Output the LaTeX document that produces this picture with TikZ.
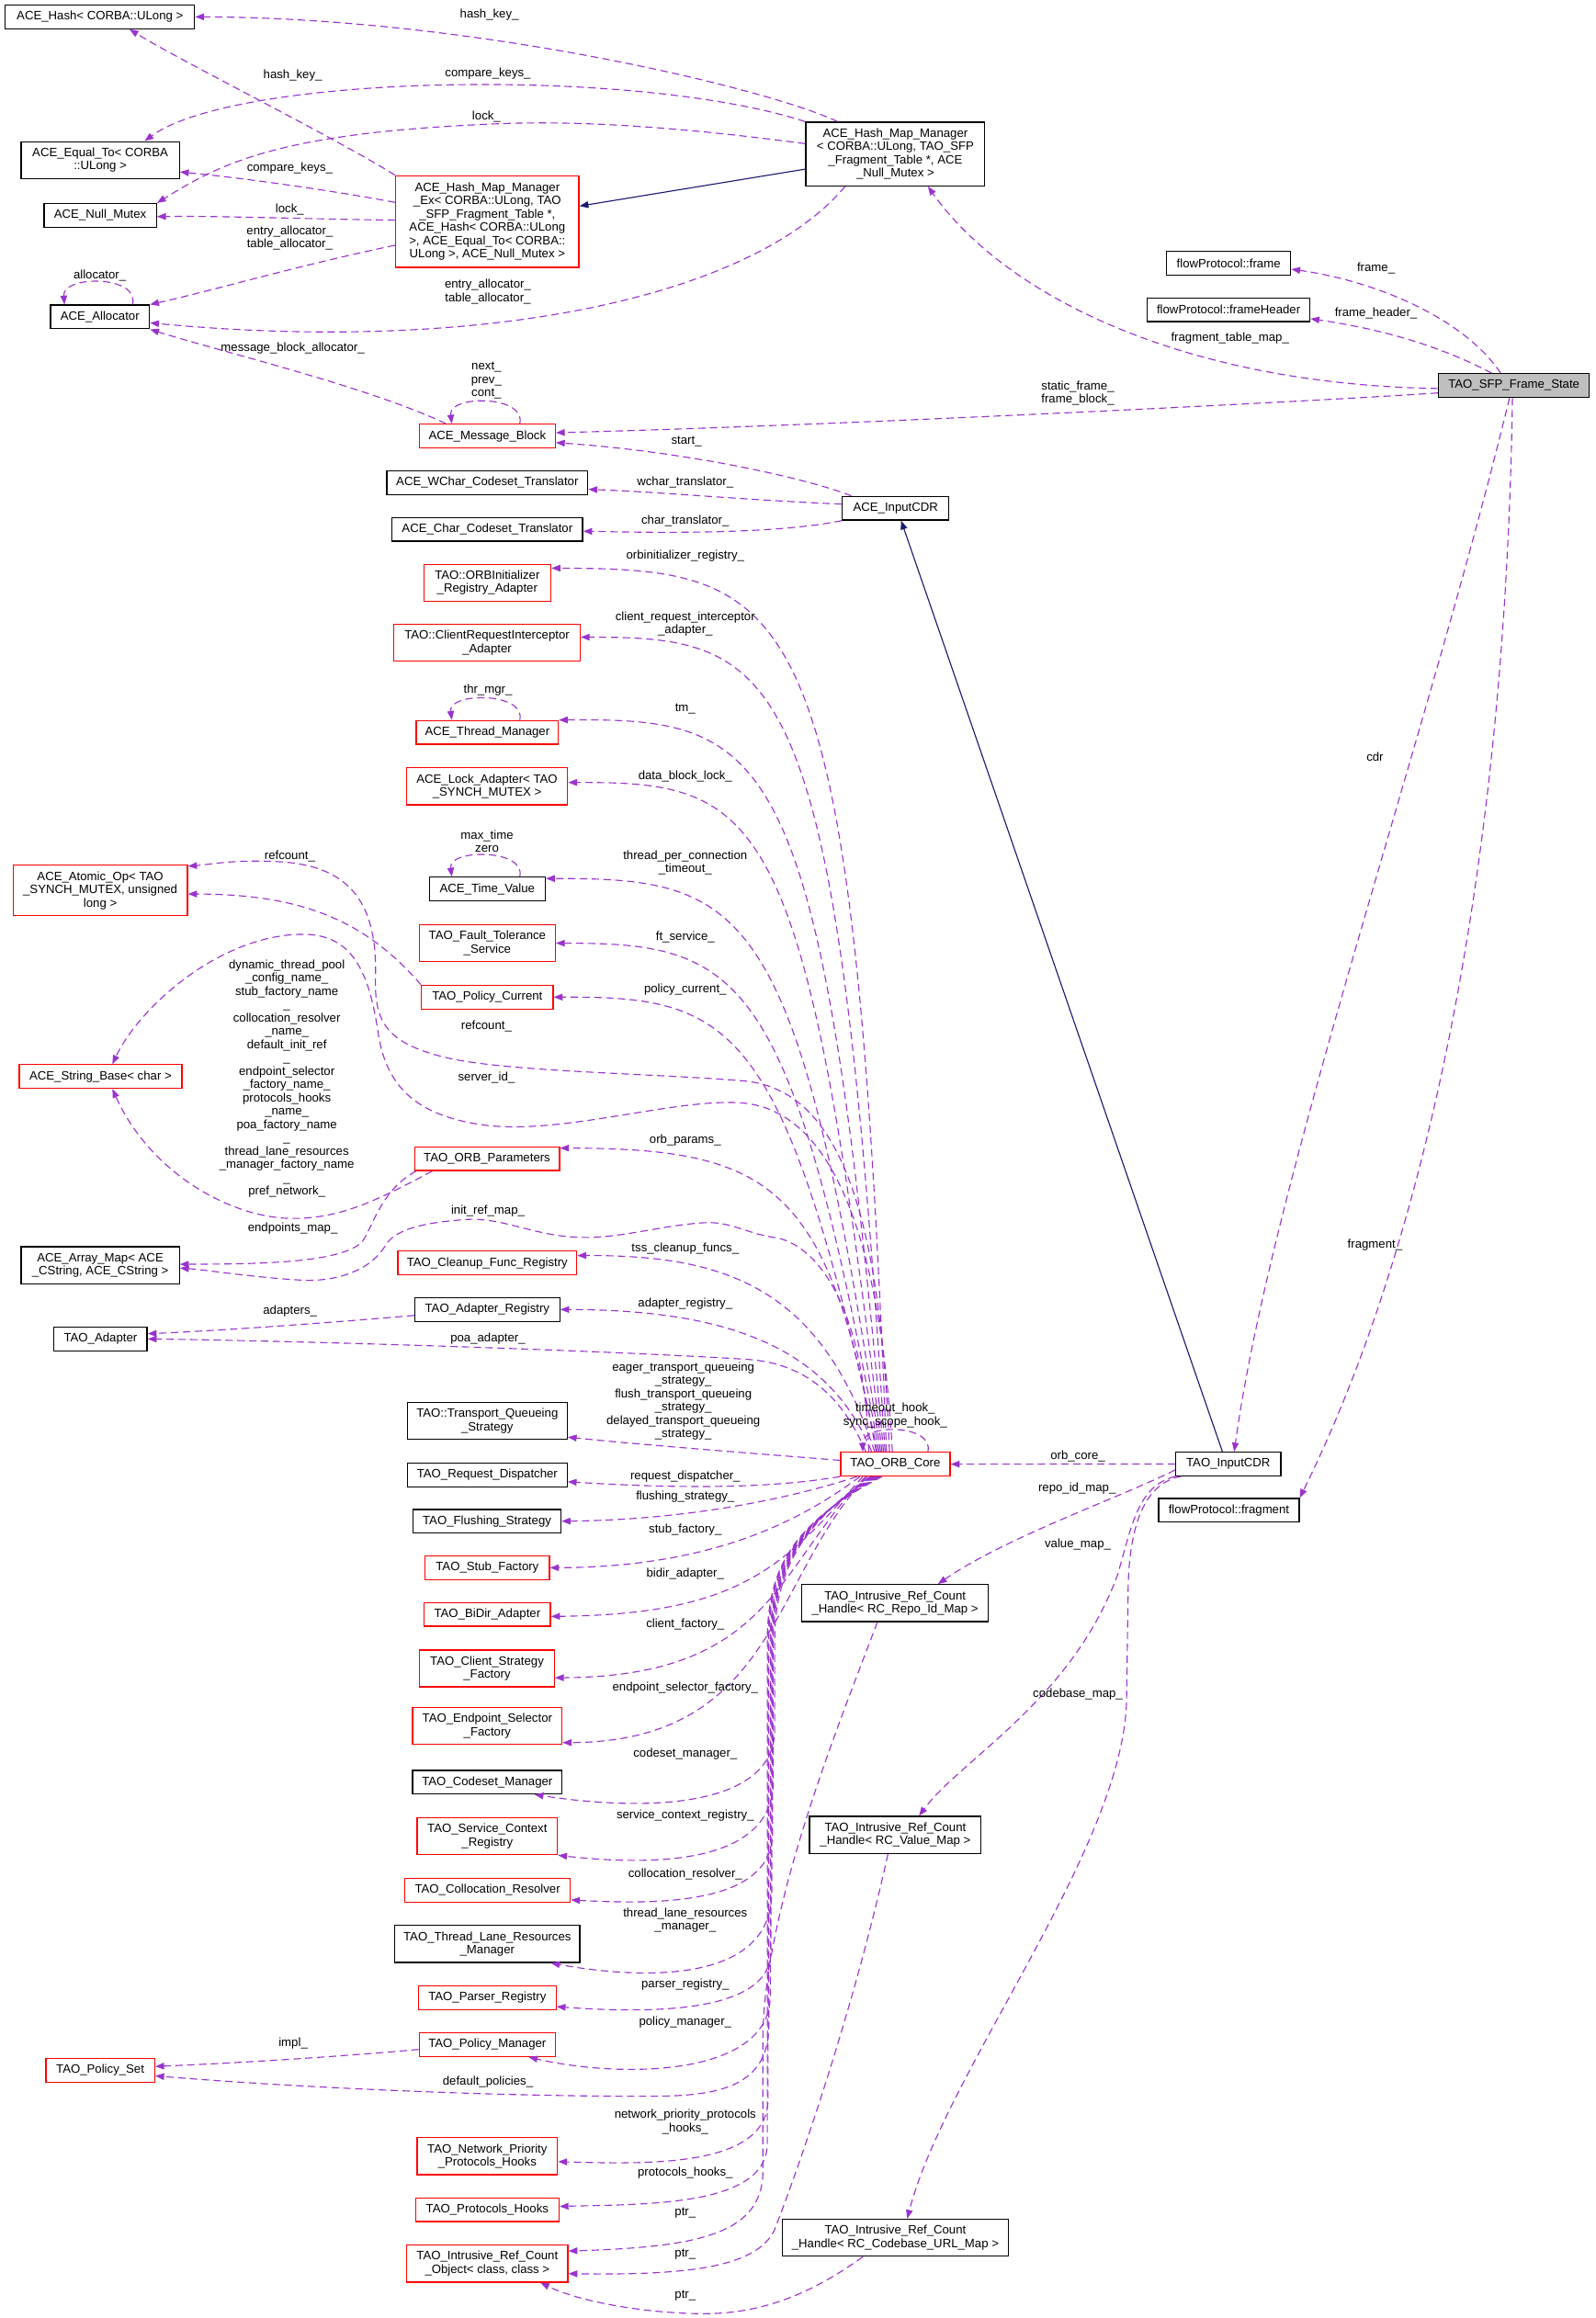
\documentclass[tikz,border=0pt]{standalone}
\usepackage{fontspec}
\setmainfont{Liberation Sans}
\usetikzlibrary{arrows.meta,calc}
\definecolor{edgepurple}{RGB}{154,50,205}
\definecolor{edgenavy}{RGB}{25,25,112}
\definecolor{boxgray}{RGB}{191,191,191}
\newcommand{\dgfont}{\fontsize{8.2}{9}\selectfont}
\tikzset{every picture/.style={line width=0.7pt},
  cls/.style={draw=black,line width=0.8pt,inner sep=1pt,align=center,font=\dgfont},
  trunc/.style={cls,draw=red},
  sz/.style 2 args={minimum width=#1,minimum height=#2},
  lbl/.style={inner sep=0pt,align=center,font=\dgfont},
  member/.style={draw=edgepurple,dash pattern=on 5pt off 3pt,-{Triangle[length=6pt,width=4.5pt]}},
  derive/.style={draw=edgenavy,-{Triangle[length=6pt,width=4.5pt]}}}
\begin{document}
\begin{tikzpicture}[x=1pt,y=1pt,yscale=-1,xscale=1]
\useasboundingbox (0,0) rectangle (1079,1568);

%Shape: Class boxes, left column
\node[cls,sz={128pt}{16pt}] (hash) at (67.6,11.4) {ACE\_Hash< CORBA::ULong >};
\node[cls,sz={107pt}{25pt}] (eqto) at (67.8,108.3) {ACE\_Equal\_To< CORBA\\::ULong >};
\node[cls,sz={76pt}{16pt}] (nullmx) at (67.8,145.7) {ACE\_Null\_Mutex};
\node[cls,sz={67pt}{16pt}] (alloc) at (67.6,214.4) {ACE\_Allocator};
\node[trunc,sz={118pt}{34pt}] (atomic) at (67.8,602.3) {ACE\_Atomic\_Op< TAO\\\_SYNCH\_MUTEX, unsigned\\long >};
\node[trunc,sz={110pt}{16pt}] (strbase) at (68,728.2) {ACE\_String\_Base< char >};
\node[cls,sz={107pt}{25pt}] (arrmap) at (67.8,855.8) {ACE\_Array\_Map< ACE\\\_CString, ACE\_CString >};
\node[cls,sz={63pt}{16pt}] (tadapt) at (68,905.7) {TAO\_Adapter};
\node[trunc,sz={73.6pt}{16pt}] (polset) at (67.8,1400.5) {TAO\_Policy\_Set};

%Shape: Class boxes, middle column
\node[trunc,sz={124pt}{62pt}] (hmmex) at (329.6,149.9) {ACE\_Hash\_Map\_Manager\\\_Ex< CORBA::ULong, TAO\\\_SFP\_Fragment\_Table *,\\ACE\_Hash< CORBA::ULong\\>, ACE\_Equal\_To< CORBA::\\ULong >, ACE\_Null\_Mutex >};
\node[trunc,sz={92pt}{16pt}] (mblock) at (329.6,295) {ACE\_Message\_Block};
\node[cls,sz={136pt}{16pt}] (wchar) at (329.6,326.5) {ACE\_WChar\_Codeset\_Translator};
\node[cls,sz={129pt}{16pt}] (chartr) at (329.6,358) {ACE\_Char\_Codeset\_Translator};
\node[trunc,sz={86pt}{25pt}] (orbinit) at (329.6,394.2) {TAO::ORBInitializer\\\_Registry\_Adapter};
\node[trunc,sz={126pt}{25pt}] (clireq) at (329.4,434.8) {TAO::ClientRequestInterceptor\\\_Adapter};
\node[trunc,sz={96pt}{16pt}] (thrmgr) at (329.6,495.4) {ACE\_Thread\_Manager};
\node[trunc,sz={109pt}{25pt}] (lockad) at (329.4,531.9) {ACE\_Lock\_Adapter< TAO\\\_SYNCH\_MUTEX >};
\node[cls,sz={78.5pt}{16pt}] (timeval) at (329.6,601.4) {ACE\_Time\_Value};
\node[trunc,sz={92pt}{25pt}] (ftsvc) at (329.6,638) {TAO\_Fault\_Tolerance\\\_Service};
\node[trunc,sz={89pt}{16pt}] (polcur) at (329.6,674.5) {TAO\_Policy\_Current};
\node[trunc,sz={98pt}{16pt}] (orbpar) at (329.4,783.8) {TAO\_ORB\_Parameters};
\node[trunc,sz={121pt}{16pt}] (cleanup) at (329.6,854.3) {TAO\_Cleanup\_Func\_Registry};
\node[cls,sz={98pt}{16pt}] (adreg) at (329.6,885.8) {TAO\_Adapter\_Registry};
\node[cls,sz={108pt}{25pt}] (tqs) at (329.6,961.2) {TAO::Transport\_Queueing\\\_Strategy};
\node[cls,sz={108pt}{16pt}] (reqdisp) at (329.6,997.8) {TAO\_Request\_Dispatcher};
\node[cls,sz={100pt}{16pt}] (flush) at (329.4,1029) {TAO\_Flushing\_Strategy};
\node[trunc,sz={84pt}{16pt}] (stubf) at (329.6,1060.5) {TAO\_Stub\_Factory};
\node[trunc,sz={85.5pt}{16pt}] (bidir) at (329.6,1092) {TAO\_BiDir\_Adapter};
\node[trunc,sz={91pt}{25pt}] (clistr) at (329.4,1128.6) {TAO\_Client\_Strategy\\\_Factory};
\node[trunc,sz={101pt}{25pt}] (endsel) at (329.6,1167.5) {TAO\_Endpoint\_Selector\\\_Factory};
\node[cls,sz={101pt}{16pt}] (csmgr) at (329.6,1205.5) {TAO\_Codeset\_Manager};
\node[trunc,sz={95pt}{25pt}] (svcctx) at (329.6,1242.1) {TAO\_Service\_Context\\\_Registry};
\node[trunc,sz={112pt}{16pt}] (colloc) at (329.8,1278.6) {TAO\_Collocation\_Resolver};
\node[cls,sz={125pt}{25pt}] (tlrm) at (329.6,1315) {TAO\_Thread\_Lane\_Resources\\\_Manager};
\node[trunc,sz={93pt}{16pt}] (parser) at (329.6,1351.4) {TAO\_Parser\_Registry};
\node[trunc,sz={92pt}{16pt}] (polmgr) at (329.6,1383.1) {TAO\_Policy\_Manager};
\node[trunc,sz={95pt}{25pt}] (npph) at (329.6,1458.5) {TAO\_Network\_Priority\\\_Protocols\_Hooks};
\node[trunc,sz={97pt}{16pt}] (phooks) at (329.6,1494.8) {TAO\_Protocols\_Hooks};
\node[trunc,sz={109pt}{25pt}] (refobj) at (329.6,1531.2) {TAO\_Intrusive\_Ref\_Count\\\_Object< class, class >};

%Shape: Class boxes, right part
\node[cls,sz={121pt}{43pt}] (hmm) at (605.6,104.2) {ACE\_Hash\_Map\_Manager\\< CORBA::ULong, TAO\_SFP\\\_Fragment\_Table *, ACE\\\_Null\_Mutex >};
\node[cls,sz={72pt}{16pt}] (aicdr) at (605.8,343.8) {ACE\_InputCDR};
\node[trunc,sz={74pt}{16pt}] (core) at (605.6,990.4) {TAO\_ORB\_Core};
\node[cls,sz={126pt}{25pt}] (repoh) at (605.4,1084.4) {TAO\_Intrusive\_Ref\_Count\\\_Handle< RC\_Repo\_Id\_Map >};
\node[cls,sz={116pt}{25pt}] (valh) at (605.6,1241.2) {TAO\_Intrusive\_Ref\_Count\\\_Handle< RC\_Value\_Map >};
\node[cls,sz={153pt}{25pt}] (cbaseh) at (605.6,1513.7) {TAO\_Intrusive\_Ref\_Count\\\_Handle< RC\_Codebase\_URL\_Map >};
\node[cls,sz={84pt}{16pt}] (frame) at (831,178.1) {flowProtocol::frame};
\node[cls,sz={110pt}{16pt}] (fheader) at (831,209.6) {flowProtocol::frameHeader};
\node[cls,sz={71pt}{16pt}] (tcdr) at (830.8,990.3) {TAO\_InputCDR};
\node[cls,sz={95pt}{16pt}] (frag) at (831.2,1021.6) {flowProtocol::fragment};
\node[cls,fill=boxgray,sz={102pt}{16pt}] (sfp) at (1024,260.8) {TAO\_SFP\_Frame\_State};

%Straight Lines: inheritance
\draw[derive] ($(hmm.west)+(0,10.2)$) -- ($(hmmex.east)+(0,-10.5)$);
\draw[derive] ($(tcdr.north)+(-4,0)$) -- ($(aicdr.south)+(3.7,0)$);

%Curve Lines: hash map members
\draw[member] ($(hmm.north)+(-39,0)$) .. controls (520,60) and (320,12) .. (hash.east);
\draw[member] (hmm.north west) .. controls (430,45) and (160,50) .. ($(eqto.north)+(30,0)$);
\draw[member] ($(hmm.west)+(0,-7)$) .. controls (460,86) and (390,81) .. (331,84) .. controls (190,90) and (150,110) .. (nullmx.north east);
\draw[member] ($(hmm.south)+(-34,0)$) .. controls (510,200) and (330,240) .. ($(alloc.east)+(0,4)$);
\draw[member] (hmmex.north west) .. controls (230,95) and (120,40) .. ($(hash.south)+(20,0)$);
\draw[member] ($(hmmex.west)+(0,-13)$) .. controls (220,128) and (160,120) .. ($(eqto.east)+(0,8)$);
\draw[member] ($(hmmex.west)+(0,-1)$) .. controls (200,148) and (150,146) .. ($(nullmx.east)+(0,0.8)$);
\draw[member] ($(hmmex.west)+(0,16)$) .. controls (200,180) and (150,195) .. (alloc.north east);
\draw[member] ($(alloc.north)+(22,0)$) .. controls (95,186) and (42,186) .. ($(alloc.north)+(-24,0)$);
\draw[member] ($(mblock.north)+(-28,0)$) .. controls (250,262) and (150,238) .. (alloc.south east);
\draw[member] ($(mblock.north)+(22,0)$) .. controls (356,267) and (303,267) .. ($(mblock.north)+(-24,0)$);
\draw[member] ($(thrmgr.north)+(22,0)$) .. controls (356,468) and (303,468) .. ($(thrmgr.north)+(-24,0)$);
\draw[member] ($(timeval.north)+(22,0)$) .. controls (356,574) and (303,574) .. ($(timeval.north)+(-24,0)$);

%Curve Lines: frame state members
\draw[member] ($(sfp.west)+(0,2)$) .. controls (800,260) and (680,200) .. ($(hmm.south)+(22,0)$);
\draw[member] ($(sfp.west)+(0,5)$) .. controls (880,272) and (560,288) .. ($(mblock.east)+(0,-2.3)$);
\draw[member] ($(sfp.north)+(-9,0)$) .. controls (990,215) and (930,190) .. ($(frame.east)+(0,4)$);
\draw[member] ($(sfp.north)+(-15,0)$) .. controls (970,232) and (930,222) .. ($(fheader.east)+(0,6)$);
\draw[member] ($(sfp.south)+(-3,0)$) .. controls (965,500) and (860,800) .. ($(tcdr.north)+(4,0)$);
\draw[member] ($(sfp.south)+(-1,0)$) .. controls (1018,600) and (960,850) .. (frag.north east);

%Curve Lines: ACE_InputCDR members
\draw[member] ($(aicdr.north)+(-30,0)$) .. controls (550,325) and (470,306) .. ($(mblock.east)+(0,4.4)$);
\draw[member] ($(aicdr.west)+(0,-2.8)$) .. controls (500,338) and (450,333) .. ($(wchar.east)+(0,4.5)$);
\draw[member] (aicdr.south west) .. controls (530,360) and (470,361) .. ($(chartr.east)+(0,1.3)$);

%Curve Lines: ORB core, upwards
\draw[member] ($(core.north)+(-6,0)$) .. controls (577,400) and (540,385) .. ($(orbinit.north east)+(0,3)$);
\draw[member] ($(core.north)+(-7,0)$) .. controls (566,448) and (530,431) .. ($(clireq.east)+(0,-3.8)$);
\draw[member] ($(core.north)+(-8,0)$) .. controls (555,500) and (520,486) .. (thrmgr.north east);
\draw[member] ($(core.north)+(-9,0)$) .. controls (545,545) and (515,529) .. ($(lockad.east)+(0,-2.6)$);
\draw[member] ($(core.north)+(-10,0)$) .. controls (540,610) and (505,594) .. ($(timeval.north east)+(0,1.3)$);
\draw[member] ($(core.north)+(-11,0)$) .. controls (535,655) and (500,638) .. (ftsvc.east);
\draw[member] ($(core.north)+(-12,0)$) .. controls (530,690) and (495,674) .. (polcur.east);
\draw[member] ($(core.north)+(-13,0)$) .. controls (560,800) and (520,777) .. ($(orbpar.north east)+(0,1.2)$);
\draw[member] ($(core.north)+(-14,0)$) .. controls (555,870) and (490,849) .. ($(cleanup.east)+(0,-5)$);
\draw[member] ($(core.north)+(-16,0)$) .. controls (560,910) and (490,886) .. (adreg.east);
\draw[member] ($(core.north)+(-4,0)$) .. controls (595,800) and (560,735) .. (501,731) .. controls (440,726) and (340,725) .. (300,715) .. controls (260,705) and (253,690) .. (254,660) .. controls (255,615) and (240,586) .. (190,583) .. controls (160,581) and (140,585) .. ($(atomic.north east)+(0,1)$);
\draw[member] ($(core.north)+(-2,0)$) .. controls (595,830) and (560,750) .. (501,746) .. controls (455,743) and (380,768) .. (327,761) .. controls (285,755) and (262,738) .. (256,700) .. controls (250,660) and (240,632) .. (205,632) .. controls (150,632) and (95,680) .. ($(strbase.north)+(8,0)$);
\draw[member] ($(core.north)+(-18,0)$) .. controls (585,880) and (550,840) .. (523,837) .. controls (505,834) and (495,827) .. (479,827) .. controls (450,828) and (420,838) .. (392,837) .. controls (360,836) and (340,823) .. (314,825) .. controls (288,827) and (268,831) .. (261,842) .. controls (252,858) and (230,867) .. (205,866) .. controls (170,864) and (140,859) .. ($(arrmap.east)+(0,2)$);
\draw[member] ($(core.north)+(-20,0)$) .. controls (570,945) and (545,922) .. (505,919.5) .. controls (400,913) and (200,907) .. (tadapt.east);
\draw[member] ($(core.north)+(22,0)$) .. controls (632,963) and (583,963) .. ($(core.north)+(-22,0)$);

%Curve Lines: ORB core, downwards
\draw[member] ($(core.west)+(0,-2.6)$) .. controls (520,984) and (430,977) .. ($(tqs.south east)+(0,-2)$);
\draw[member] (core.south west) .. controls (520,1007) and (460,1007) .. ($(reqdisp.east)+(0,4.5)$);
\draw[member] ($(core.south)+(-26,0)$) .. controls (540,1012) and (470,1028) .. (flush.east);
\draw[member] ($(core.south)+(-24,0)$) .. controls (540,1030) and (480,1060) .. (stubf.east);
\draw[member] ($(core.south)+(-22,0)$) .. controls (530,1060) and (500,1092) .. ($(bidir.east)+(0,1.4)$);
\draw[member] ($(core.south)+(-20,0)$) .. controls (525,1060) and (522,1134) .. ($(clistr.east)+(0,6.3)$);
\draw[member] ($(core.south)+(-19,0)$) .. controls (522,1065) and (525,1178) .. ($(endsel.south east)+(0,-1.6)$);
\draw[member] ($(core.south)+(-17,0)$) .. controls (545,1030) and (524,1060) .. (524,1110) -- (524,1170) .. controls (524,1222) and (440,1226) .. ($(csmgr.south)+(32,0)$);
\draw[member] ($(core.south)+(-16,0)$) .. controls (544,1030) and (523,1060) .. (523,1110) -- (523,1205) .. controls (523,1262) and (440,1262) .. (svcctx.south east);
\draw[member] ($(core.south)+(-15,0)$) .. controls (543,1030) and (522.5,1060) .. (522.5,1110) -- (522.5,1240) .. controls (522.5,1290) and (440,1288) .. ($(colloc.east)+(0,6.6)$);
\draw[member] ($(core.south)+(-14,0)$) .. controls (542,1030) and (522,1060) .. (522,1110) -- (522,1280) .. controls (522,1340) and (440,1340) .. ($(tlrm.south)+(43,0)$);
\draw[member] ($(core.south)+(-13,0)$) .. controls (541,1030) and (521.5,1060) .. (521.5,1110) -- (521.5,1320) .. controls (521.5,1362) and (440,1362) .. ($(parser.east)+(0,6)$);
\draw[member] ($(core.south)+(-12,0)$) .. controls (540,1030) and (521,1060) .. (521,1110) -- (521,1350) .. controls (521,1405) and (420,1406) .. ($(polmgr.south)+(28,0)$);
\draw[member] ($(core.south)+(-11,0)$) .. controls (539,1030) and (520,1060) .. (520,1110) -- (520,1370) .. controls (520,1415) and (480,1418) .. (436,1418) .. controls (330,1418) and (200,1412) .. ($(polset.east)+(0,3.7)$);
\draw[member] ($(core.south)+(-10,0)$) .. controls (538,1030) and (519.5,1060) .. (519.5,1110) -- (519.5,1420) .. controls (519.5,1466) and (440,1464) .. ($(npph.east)+(0,3.7)$);
\draw[member] ($(core.south)+(-9,0)$) .. controls (537,1030) and (519,1060) .. (519,1110) -- (519,1450) .. controls (519,1492) and (440,1491) .. ($(phooks.east)+(0,-2.3)$);

%Curve Lines: other members
\draw[member] (polcur.north west) .. controls (245,620) and (200,605) .. ($(atomic.east)+(0,2.4)$);
\draw[member] ($(orbpar.south)+(-37,0)$) .. controls (255,812) and (228,826) .. (192,824) .. controls (150,821) and (100,790) .. ($(strbase.south)+(8,0)$);
\draw[member] ($(orbpar.south)+(-48,0)$) .. controls (258,805) and (253,828) .. (245,840) .. controls (230,855) and (170,855) .. ($(arrmap.east)+(0,-0.6)$);
\draw[member] ($(adreg.west)+(0,4)$) .. controls (220,895) and (150,900) .. ($(tadapt.east)+(0,-3.5)$);
\draw[member] ($(polmgr.west)+(0,3.2)$) .. controls (220,1392) and (150,1396) .. ($(polset.east)+(0,-2.7)$);
\draw[member] ($(repoh.south)+(-12,0)$) .. controls (570,1160) and (516,1290) .. (516,1380) -- (516,1470) .. controls (515,1512) and (470,1520) .. ($(refobj.east)+(0,-8.5)$);
\draw[member] ($(valh.south)+(-5,0)$) .. controls (575,1370) and (535,1480) .. (524,1508) .. controls (512,1535) and (460,1539) .. ($(refobj.east)+(0,6.8)$);
\draw[member] ($(cbaseh.south)+(-22,0)$) .. controls (540,1558) and (505,1566) .. (470,1565) .. controls (430,1564) and (390,1556) .. ($(refobj.south)+(36,0)$);

%Curve Lines: TAO_InputCDR members
\draw[member] (tcdr.west) -- (core.east);
\draw[member] ($(tcdr.west)+(0,4)$) .. controls (760,1012) and (680,1040) .. ($(repoh.north)+(29,0)$);
\draw[member] (tcdr.south west) .. controls (770,1005) and (766,1030) .. (756,1065) .. controls (725,1150) and (650,1190) .. ($(valh.north)+(16,0)$);
\draw[member] ($(tcdr.south west)+(4,0)$) .. controls (775,1003) and (763,1030) .. (763,1080) -- (762,1150) .. controls (760,1250) and (640,1400) .. ($(cbaseh.north)+(8,0)$);

% Text Node
\node[lbl] (lHashKeyA) at (331,10) {hash\_key\_};
\node[lbl] (lCmpKeysA) at (330,50) {compare\_keys\_};
\node[lbl] (lHashKeyB) at (198,51) {hash\_key\_};
\node[lbl] (lLockA) at (329,79) {lock\_};
\node[lbl] (lCmpKeysB) at (196,114) {compare\_keys\_};
\node[lbl] (lLockB) at (196,141.5) {lock\_};
\node[lbl] (lAllocB) at (196,161) {entry\_allocator\_\\table\_allocator\_};
\node[lbl] (lAllocSelf) at (67.5,186.5) {allocator\_};
\node[lbl] (lAllocA) at (330,197.3) {entry\_allocator\_\\table\_allocator\_};
\node[lbl] (lMbAlloc) at (198,235.6) {message\_block\_allocator\_};
\node[lbl] (lMbSelf) at (329,257.6) {next\_\\prev\_\\cont\_};
\node[lbl] (lFrame) at (930.7,181.3) {frame\_};
\node[lbl] (lFrameHdr) at (930.7,211.7) {frame\_header\_};
\node[lbl] (lFragMap) at (832,229) {fragment\_table\_map\_};
\node[lbl] (lStatic) at (729,266) {static\_frame\_\\frame\_block\_};
\node[lbl] (lStart) at (464.3,298.7) {start\_};
\node[lbl] (lWchar) at (463.5,326.3) {wchar\_translator\_};
\node[lbl] (lChar) at (463.5,352.2) {char\_translator\_};
\node[lbl] (lOrbInit) at (463.5,376) {orbinitializer\_registry\_};
\node[lbl] (lCliReq) at (463.5,422) {client\_request\_interceptor\\\_adapter\_};
\node[lbl] (lThrSelf) at (330,467) {thr\_mgr\_};
\node[lbl] (lTm) at (463.5,479.6) {tm\_};
\node[lbl] (lCdr) at (930,512) {cdr};
\node[lbl] (lDbLock) at (463.5,525.2) {data\_block\_lock\_};
\node[lbl] (lTimeSelf) at (329.4,569) {max\_time\\zero};
\node[lbl] (lRefcntA) at (196,579) {refcount\_};
\node[lbl] (lTpc) at (463.5,583.7) {thread\_per\_connection\\\_timeout\_};
\node[lbl] (lFt) at (463.5,634) {ft\_service\_};
\node[lbl] (lPolCur) at (463.5,669.2) {policy\_current\_};
\node[lbl] (lRefcntB) at (329,694) {refcount\_};
\node[lbl] (lServerId) at (329,728.8) {server\_id\_};
\node[lbl] (lStrNames) at (194,729.7) {dynamic\_thread\_pool\\\_config\_name\_\\stub\_factory\_name\\\_\\collocation\_resolver\\\_name\_\\default\_init\_ref\\\_\\endpoint\_selector\\\_factory\_name\_\\protocols\_hooks\\\_name\_\\poa\_factory\_name\\\_\\thread\_lane\_resources\\\_manager\_factory\_name\\\_\\pref\_network\_};
\node[lbl] (lOrbPar) at (463.5,771.3) {orb\_params\_};
\node[lbl] (lInitRef) at (330,819) {init\_ref\_map\_};
\node[lbl] (lEndMap) at (198,830.8) {endpoints\_map\_};
\node[lbl] (lFragment) at (930,842) {fragment\_};
\node[lbl] (lTss) at (463.5,844.6) {tss\_cleanup\_funcs\_};
\node[lbl] (lAdReg) at (463.5,882) {adapter\_registry\_};
\node[lbl] (lAdapters) at (196.2,886.7) {adapters\_};
\node[lbl] (lPoa) at (330,905.7) {poa\_adapter\_};
\node[lbl] (lQueue) at (462.2,947.8) {eager\_transport\_queueing\\\_strategy\_\\flush\_transport\_queueing\\\_strategy\_\\delayed\_transport\_queueing\\\_strategy\_};
\node[lbl] (lCoreSelf) at (605.5,957.3) {timeout\_hook\_\\sync\_scope\_hook\_};
\node[lbl] (lOrbCore) at (729,984.8) {orb\_core\_};
\node[lbl] (lReqDisp) at (463.5,998.5) {request\_dispatcher\_};
\node[lbl] (lRepoMap) at (728.5,1006.9) {repo\_id\_map\_};
\node[lbl] (lFlush) at (463.5,1012.2) {flushing\_strategy\_};
\node[lbl] (lStub) at (463.5,1034.8) {stub\_factory\_};
\node[lbl] (lValMap) at (729,1044.6) {value\_map\_};
\node[lbl] (lBidir) at (463.5,1064.4) {bidir\_adapter\_};
\node[lbl] (lCliFac) at (463.5,1098.6) {client\_factory\_};
\node[lbl] (lEndSel) at (463.5,1141.5) {endpoint\_selector\_factory\_};
\node[lbl] (lCbMap) at (729,1145.8) {codebase\_map\_};
\node[lbl] (lCsMgr) at (463.5,1186.3) {codeset\_manager\_};
\node[lbl] (lSvcCtx) at (463.5,1228.3) {service\_context\_registry\_};
\node[lbl] (lColloc) at (463.5,1267.8) {collocation\_resolver\_};
\node[lbl] (lTlrm) at (463.5,1299) {thread\_lane\_resources\\\_manager\_};
\node[lbl] (lParser) at (463.5,1342.5) {parser\_registry\_};
\node[lbl] (lPolMgr) at (463.5,1368) {policy\_manager\_};
\node[lbl] (lImpl) at (198.3,1382.5) {impl\_};
\node[lbl] (lDefPol) at (330,1408.4) {default\_policies\_};
\node[lbl] (lNpph) at (463.5,1435.3) {network\_priority\_protocols\\\_hooks\_};
\node[lbl] (lPHooks) at (463.5,1469.6) {protocols\_hooks\_};
\node[lbl] (lPtrA) at (463.5,1496.6) {ptr\_};
\node[lbl] (lPtrB) at (463.5,1524.6) {ptr\_};
\node[lbl] (lPtrC) at (463.5,1552.6) {ptr\_};

\end{tikzpicture}
\end{document}
